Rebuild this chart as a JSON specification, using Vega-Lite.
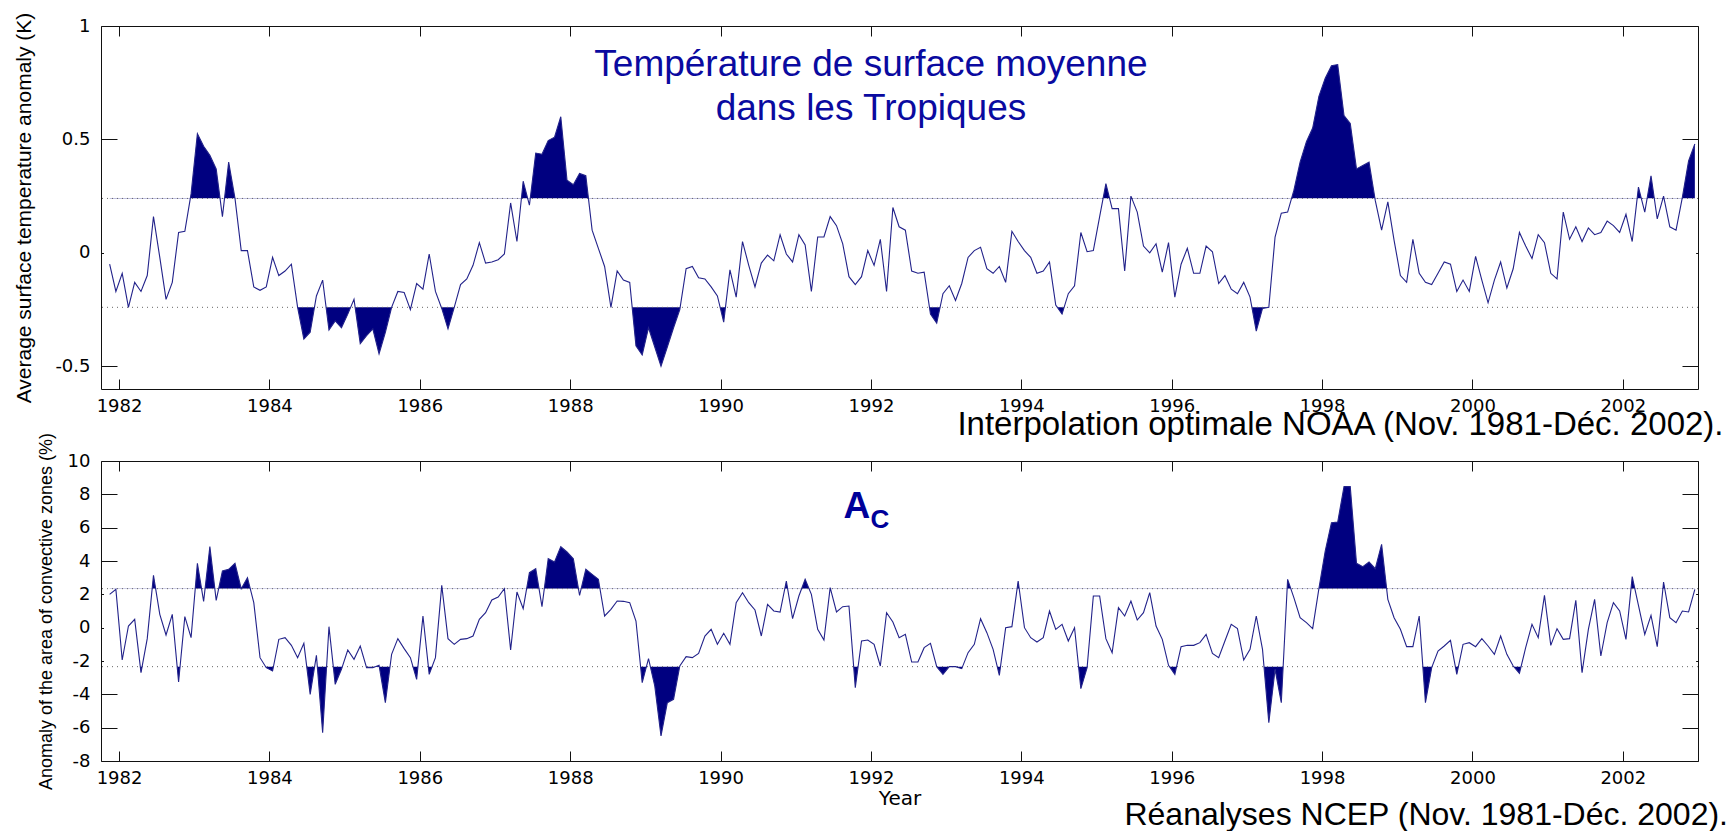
{
  "$schema": "https://vega.github.io/schema/vega-lite/v6.json",
  "background": "white",
  "padding": {"left": 13, "top": 11, "right": 0, "bottom": 0},
  "bounds": "flush",
  "spacing": 72,
  "title": {"text": "Réanalyses NCEP (Nov. 1981-Déc. 2002).", "orient": "bottom", "anchor": "end", "frame": "group", "dx": 30, "offset": -9, "font": "Liberation Sans", "fontSize": 32, "fontWeight": "normal", "color": "#000"},
  "config": {
    "view": {"stroke": "#111", "strokeWidth": 1},
    "axis": {"domain": false, "grid": false, "labelFont": "DejaVu Sans", "labelFontSize": 18, "labelColor": "#000", "tickColor": "#111", "tickWidth": 1, "zindex": 1, "titleFont": "Liberation Sans", "titleFontWeight": "normal", "titleColor": "#000", "labelFlush": false}
  },
  "datasets": {"d": [
{"t":1981.875,"s":-0.05,"a":2.0},{"t":1981.958,"s":-0.17,"a":2.3},
{"t":1982.042,"s":-0.09,"a":-1.94},{"t":1982.125,"s":-0.24,"a":0.1},{"t":1982.208,"s":-0.13,"a":0.5},{"t":1982.292,"s":-0.17,"a":-2.7},{"t":1982.375,"s":-0.1,"a":-0.66},{"t":1982.458,"s":0.16,"a":3.14},{"t":1982.542,"s":-0.02,"a":0.8},{"t":1982.625,"s":-0.205,"a":-0.44},{"t":1982.708,"s":-0.13,"a":0.8},{"t":1982.792,"s":0.09,"a":-3.26},{"t":1982.875,"s":0.095,"a":0.66},{"t":1982.958,"s":0.26,"a":-0.6},
{"t":1983.042,"s":0.525,"a":3.86},{"t":1983.125,"s":0.47,"a":1.58},{"t":1983.208,"s":0.43,"a":4.86},{"t":1983.292,"s":0.37,"a":1.64},{"t":1983.375,"s":0.16,"a":3.4},{"t":1983.458,"s":0.4,"a":3.5},{"t":1983.542,"s":0.24,"a":3.86},{"t":1983.625,"s":0.01,"a":2.34},{"t":1983.708,"s":0.01,"a":3.0},{"t":1983.792,"s":-0.15,"a":1.5},{"t":1983.875,"s":-0.165,"a":-1.8},{"t":1983.958,"s":-0.15,"a":-2.4},
{"t":1984.042,"s":-0.02,"a":-2.6},{"t":1984.125,"s":-0.1,"a":-0.7},{"t":1984.208,"s":-0.08,"a":-0.6},{"t":1984.292,"s":-0.05,"a":-1.06},{"t":1984.375,"s":-0.24,"a":-1.8},{"t":1984.458,"s":-0.38,"a":-0.94},{"t":1984.542,"s":-0.35,"a":-4.0},{"t":1984.625,"s":-0.19,"a":-1.66},{"t":1984.708,"s":-0.12,"a":-6.3},{"t":1984.792,"s":-0.34,"a":0.06},{"t":1984.875,"s":-0.3,"a":-3.4},{"t":1984.958,"s":-0.33,"a":-2.5},
{"t":1985.042,"s":-0.27,"a":-1.34},{"t":1985.125,"s":-0.205,"a":-1.9},{"t":1985.208,"s":-0.4,"a":-1.1},{"t":1985.292,"s":-0.365,"a":-2.4},{"t":1985.375,"s":-0.335,"a":-2.4},{"t":1985.458,"s":-0.445,"a":-2.26},{"t":1985.542,"s":-0.35,"a":-4.5},{"t":1985.625,"s":-0.24,"a":-1.6},{"t":1985.708,"s":-0.17,"a":-0.66},{"t":1985.792,"s":-0.175,"a":-1.26},{"t":1985.875,"s":-0.25,"a":-1.8},{"t":1985.958,"s":-0.135,"a":-3.1},
{"t":1986.042,"s":-0.16,"a":0.7},{"t":1986.125,"s":-0.005,"a":-2.8},{"t":1986.208,"s":-0.17,"a":-1.8},{"t":1986.292,"s":-0.245,"a":2.54},{"t":1986.375,"s":-0.335,"a":-0.66},{"t":1986.458,"s":-0.24,"a":-1.0},{"t":1986.542,"s":-0.14,"a":-0.7},{"t":1986.625,"s":-0.115,"a":-0.66},{"t":1986.708,"s":-0.055,"a":-0.5},{"t":1986.792,"s":0.045,"a":0.5},{"t":1986.875,"s":-0.045,"a":0.9},{"t":1986.958,"s":-0.04,"a":1.66},
{"t":1987.042,"s":-0.03,"a":1.84},{"t":1987.125,"s":-0.005,"a":2.34},{"t":1987.208,"s":0.22,"a":-1.34},{"t":1987.292,"s":0.05,"a":2.14},{"t":1987.375,"s":0.316,"a":1.14},{"t":1987.458,"s":0.21,"a":3.3},{"t":1987.542,"s":0.44,"a":3.54},{"t":1987.625,"s":0.435,"a":1.26},{"t":1987.708,"s":0.495,"a":4.14},{"t":1987.792,"s":0.51,"a":3.94},{"t":1987.875,"s":0.6,"a":4.86},{"t":1987.958,"s":0.32,"a":4.54},
{"t":1988.042,"s":0.3,"a":4.14},{"t":1988.125,"s":0.35,"a":1.94},{"t":1988.208,"s":0.34,"a":3.5},{"t":1988.292,"s":0.1,"a":3.2},{"t":1988.375,"s":0.02,"a":2.9},{"t":1988.458,"s":-0.06,"a":0.7},{"t":1988.542,"s":-0.24,"a":1.1},{"t":1988.625,"s":-0.08,"a":1.6},{"t":1988.708,"s":-0.12,"a":1.58},{"t":1988.792,"s":-0.13,"a":1.5},{"t":1988.875,"s":-0.41,"a":0.4},{"t":1988.958,"s":-0.45,"a":-3.3},
{"t":1989.042,"s":-0.33,"a":-1.86},{"t":1989.125,"s":-0.415,"a":-3.5},{"t":1989.208,"s":-0.5,"a":-6.5},{"t":1989.292,"s":-0.415,"a":-4.5},{"t":1989.375,"s":-0.33,"a":-4.3},{"t":1989.458,"s":-0.25,"a":-2.3},{"t":1989.542,"s":-0.07,"a":-1.74},{"t":1989.625,"s":-0.06,"a":-1.8},{"t":1989.708,"s":-0.11,"a":-1.54},{"t":1989.792,"s":-0.115,"a":-0.5},{"t":1989.875,"s":-0.15,"a":-0.1},{"t":1989.958,"s":-0.19,"a":-1.0},
{"t":1990.042,"s":-0.305,"a":-0.34},{"t":1990.125,"s":-0.075,"a":-1.0},{"t":1990.208,"s":-0.195,"a":1.5},{"t":1990.292,"s":0.05,"a":2.1},{"t":1990.375,"s":-0.055,"a":1.5},{"t":1990.458,"s":-0.15,"a":1.06},{"t":1990.542,"s":-0.045,"a":-0.5},{"t":1990.625,"s":-0.01,"a":1.4},{"t":1990.708,"s":-0.035,"a":1.0},{"t":1990.792,"s":0.08,"a":0.94},{"t":1990.875,"s":-0.005,"a":2.8},{"t":1990.958,"s":-0.04,"a":0.54},
{"t":1991.042,"s":0.08,"a":1.9},{"t":1991.125,"s":0.035,"a":2.9},{"t":1991.208,"s":-0.17,"a":2.0},{"t":1991.292,"s":0.07,"a":-0.1},{"t":1991.375,"s":0.07,"a":-0.74},{"t":1991.458,"s":0.16,"a":2.4},{"t":1991.542,"s":0.12,"a":0.94},{"t":1991.625,"s":0.04,"a":1.26},{"t":1991.708,"s":-0.105,"a":1.3},{"t":1991.792,"s":-0.14,"a":-3.6},{"t":1991.875,"s":-0.105,"a":-0.8},{"t":1991.958,"s":0.01,"a":-0.74},
{"t":1992.042,"s":-0.055,"a":-1.0},{"t":1992.125,"s":0.06,"a":-2.3},{"t":1992.208,"s":-0.17,"a":0.9},{"t":1992.292,"s":0.2,"a":0.34},{"t":1992.375,"s":0.115,"a":-0.6},{"t":1992.458,"s":0.1,"a":-0.4},{"t":1992.542,"s":-0.08,"a":-2.06},{"t":1992.625,"s":-0.09,"a":-2.06},{"t":1992.708,"s":-0.085,"a":-1.2},{"t":1992.792,"s":-0.27,"a":-0.94},{"t":1992.875,"s":-0.31,"a":-2.34},{"t":1992.958,"s":-0.18,"a":-2.8},
{"t":1993.042,"s":-0.145,"a":-2.34},{"t":1993.125,"s":-0.21,"a":-2.34},{"t":1993.208,"s":-0.135,"a":-2.46},{"t":1993.292,"s":-0.02,"a":-1.5},{"t":1993.375,"s":0.01,"a":-1.0},{"t":1993.458,"s":0.025,"a":0.54},{"t":1993.542,"s":-0.07,"a":-0.3},{"t":1993.625,"s":-0.09,"a":-1.3},{"t":1993.708,"s":-0.06,"a":-2.86},{"t":1993.792,"s":-0.13,"a":0.0},{"t":1993.875,"s":0.095,"a":0.06},{"t":1993.958,"s":0.05,"a":2.8},
{"t":1994.042,"s":0.01,"a":0.0},{"t":1994.125,"s":-0.02,"a":-0.6},{"t":1994.208,"s":-0.09,"a":-0.86},{"t":1994.292,"s":-0.08,"a":-0.6},{"t":1994.375,"s":-0.04,"a":1.0},{"t":1994.458,"s":-0.23,"a":-0.1},{"t":1994.542,"s":-0.27,"a":0.2},{"t":1994.625,"s":-0.18,"a":-0.8},{"t":1994.708,"s":-0.145,"a":0.0},{"t":1994.792,"s":0.09,"a":-3.66},{"t":1994.875,"s":0.005,"a":-2.4},{"t":1994.958,"s":0.01,"a":1.9},
{"t":1995.042,"s":0.16,"a":1.9},{"t":1995.125,"s":0.305,"a":-0.66},{"t":1995.208,"s":0.195,"a":-1.5},{"t":1995.292,"s":0.195,"a":1.2},{"t":1995.375,"s":-0.08,"a":0.7},{"t":1995.458,"s":0.25,"a":1.6},{"t":1995.542,"s":0.18,"a":0.46},{"t":1995.625,"s":0.03,"a":0.9},{"t":1995.708,"s":0.0,"a":2.1},{"t":1995.792,"s":0.04,"a":0.1},{"t":1995.875,"s":-0.085,"a":-0.7},{"t":1995.958,"s":0.045,"a":-2.26},
{"t":1996.042,"s":-0.195,"a":-2.8},{"t":1996.125,"s":-0.05,"a":-1.14},{"t":1996.208,"s":0.02,"a":-1.06},{"t":1996.292,"s":-0.09,"a":-1.06},{"t":1996.375,"s":-0.09,"a":-0.9},{"t":1996.458,"s":0.03,"a":-0.4},{"t":1996.542,"s":0.005,"a":-1.54},{"t":1996.625,"s":-0.135,"a":-1.8},{"t":1996.708,"s":-0.1,"a":-0.8},{"t":1996.792,"s":-0.16,"a":0.2},{"t":1996.875,"s":-0.18,"a":-0.06},{"t":1996.958,"s":-0.13,"a":-1.94},
{"t":1997.042,"s":-0.195,"a":-1.3},{"t":1997.125,"s":-0.345,"a":0.7},{"t":1997.208,"s":-0.245,"a":-1.3},{"t":1997.292,"s":-0.24,"a":-5.7},{"t":1997.375,"s":0.07,"a":-2.5},{"t":1997.458,"s":0.175,"a":-4.5},{"t":1997.542,"s":0.18,"a":2.9},{"t":1997.625,"s":0.275,"a":1.8},{"t":1997.708,"s":0.4,"a":0.6},{"t":1997.792,"s":0.49,"a":0.3},{"t":1997.875,"s":0.55,"a":-0.06},{"t":1997.958,"s":0.69,"a":2.34},
{"t":1998.042,"s":0.77,"a":4.6},{"t":1998.125,"s":0.825,"a":6.3},{"t":1998.208,"s":0.83,"a":6.34},{"t":1998.292,"s":0.605,"a":8.46},{"t":1998.375,"s":0.57,"a":8.46},{"t":1998.458,"s":0.37,"a":3.86},{"t":1998.542,"s":0.385,"a":3.66},{"t":1998.625,"s":0.4,"a":3.94},{"t":1998.708,"s":0.23,"a":3.54},{"t":1998.792,"s":0.1,"a":5.0},{"t":1998.875,"s":0.225,"a":1.7},{"t":1998.958,"s":0.055,"a":0.6},
{"t":1999.042,"s":-0.1,"a":-0.1},{"t":1999.125,"s":-0.13,"a":-1.14},{"t":1999.208,"s":0.06,"a":-1.14},{"t":1999.292,"s":-0.09,"a":0.7},{"t":1999.375,"s":-0.13,"a":-4.5},{"t":1999.458,"s":-0.14,"a":-2.4},{"t":1999.542,"s":-0.09,"a":-1.4},{"t":1999.625,"s":-0.04,"a":-1.1},{"t":1999.708,"s":-0.05,"a":-0.76},{"t":1999.792,"s":-0.17,"a":-2.8},{"t":1999.875,"s":-0.12,"a":-1.0},{"t":1999.958,"s":-0.17,"a":-0.9},
{"t":2000.042,"s":-0.015,"a":-1.14},{"t":2000.125,"s":-0.12,"a":-0.66},{"t":2000.208,"s":-0.22,"a":-1.1},{"t":2000.292,"s":-0.12,"a":-1.6},{"t":2000.375,"s":-0.04,"a":-0.5},{"t":2000.458,"s":-0.155,"a":-1.6},{"t":2000.542,"s":-0.07,"a":-2.3},{"t":2000.625,"s":0.09,"a":-2.74},{"t":2000.708,"s":0.03,"a":-1.2},{"t":2000.792,"s":-0.025,"a":0.2},{"t":2000.875,"s":0.08,"a":-0.6},{"t":2000.958,"s":0.045,"a":1.94},
{"t":2001.042,"s":-0.09,"a":-1.06},{"t":2001.125,"s":-0.115,"a":-0.06},{"t":2001.208,"s":0.18,"a":-0.7},{"t":2001.292,"s":0.06,"a":-0.66},{"t":2001.375,"s":0.115,"a":1.64},{"t":2001.458,"s":0.05,"a":-2.7},{"t":2001.542,"s":0.11,"a":-0.1},{"t":2001.625,"s":0.08,"a":1.7},{"t":2001.708,"s":0.09,"a":-1.7},{"t":2001.792,"s":0.14,"a":0.3},{"t":2001.875,"s":0.12,"a":1.5},{"t":2001.958,"s":0.09,"a":1.0},
{"t":2002.042,"s":0.17,"a":-0.7},{"t":2002.125,"s":0.05,"a":3.06},{"t":2002.208,"s":0.29,"a":1.34},{"t":2002.292,"s":0.18,"a":-0.4},{"t":2002.375,"s":0.34,"a":0.74},{"t":2002.458,"s":0.15,"a":-1.14},{"t":2002.542,"s":0.25,"a":2.74},{"t":2002.625,"s":0.115,"a":0.6},{"t":2002.708,"s":0.1,"a":0.3},{"t":2002.792,"s":0.245,"a":1.0},{"t":2002.875,"s":0.405,"a":0.94},{"t":2002.958,"s":0.48,"a":2.3}
  ]},
  "vconcat": [
    {
      "width": 1597, "height": 363,
      "resolve": {"axis": {"x": "independent", "y": "independent"}},
      "layer": [
        {
          "data": {"name": "d"},
          "mark": {"type": "area", "color": "#000080", "opacity": 1},
          "encoding": {
            "x": {"field": "t", "type": "quantitative", "scale": {"domain": [1981.76, 2003.0], "nice": false, "zero": false},
                  "axis": {"orient": "bottom", "values": [1982,1984,1986,1988,1990,1992,1994,1996,1998,2000,2002], "format": "d", "tickSize": -10, "labelPadding": 18,
                           "title": "Interpolation optimale NOAA (Nov. 1981-Déc. 2002).", "titleFont": "Liberation Sans", "titleFontSize": 33, "titleAlign": "right", "titleX": 1622, "titlePadding": -7}},
            "y": {"field": "s", "type": "quantitative", "scale": {"domain": [-0.6, 1], "nice": false, "zero": false},
                  "axis": {"orient": "left", "values": [-0.5, 0, 0.5, 1], "labelExpr": "'' + datum.value", "title": "Average surface temperature anomaly (K)", "titleFontSize": 21, "titlePadding": 20, "tickSize": -16, "labelPadding": 27}},
            "y2": {"datum": 0.24}
          }
        },
        {
          "data": {"values": [{}]},
          "mark": {"type": "rect", "color": "white"},
          "encoding": {
            "x": {"datum": 1981.8, "type": "quantitative", "axis": null}, "x2": {"datum": 2002.975},
            "y": {"datum": -0.24, "type": "quantitative", "axis": null}, "y2": {"datum": 0.24}
          }
        },
        {
          "data": {"values": [{}]},
          "mark": {"type": "rule", "color": "#666", "strokeDash": [1, 4], "strokeWidth": 1},
          "encoding": {"y": {"datum": 0.24, "type": "quantitative", "axis": null}}
        },
        {
          "data": {"values": [{}]},
          "mark": {"type": "rule", "color": "#666", "strokeDash": [1, 4], "strokeWidth": 1},
          "encoding": {"y": {"datum": -0.24, "type": "quantitative", "axis": null}}
        },
        {
          "data": {"name": "d"},
          "mark": {"type": "line", "color": "#22228a", "strokeWidth": 1.1},
          "encoding": {
            "x": {"field": "t", "type": "quantitative", "axis": {"orient": "top", "values": [1982,1984,1986,1988,1990,1992,1994,1996,1998,2000,2002], "labels": false, "title": null, "tickSize": -10}},
            "y": {"field": "s", "type": "quantitative", "axis": {"orient": "right", "values": [-0.5, 0, 0.5, 1], "labels": false, "title": null, "tickSize": -16}}
          }
        },
        {
          "data": {"values": [{}]},
          "mark": {"type": "text", "text": "Température de surface moyenne", "font": "Liberation Sans", "fontSize": 37, "color": "#0a0aa0", "align": "center", "baseline": "alphabetic"},
          "encoding": {"x": {"datum": 1992.0, "type": "quantitative", "axis": null}, "y": {"datum": 0.778, "type": "quantitative", "axis": null}}
        },
        {
          "data": {"values": [{}]},
          "mark": {"type": "text", "text": "dans les Tropiques", "font": "Liberation Sans", "fontSize": 37, "color": "#0a0aa0", "align": "center", "baseline": "alphabetic"},
          "encoding": {"x": {"datum": 1992.0, "type": "quantitative", "axis": null}, "y": {"datum": 0.584, "type": "quantitative", "axis": null}}
        }
      ]
    },
    {
      "width": 1597, "height": 300,
      "resolve": {"axis": {"x": "independent", "y": "independent"}},
      "layer": [
        {
          "data": {"name": "d"},
          "mark": {"type": "area", "color": "#000080", "opacity": 1},
          "encoding": {
            "x": {"field": "t", "type": "quantitative", "scale": {"domain": [1981.76, 2003.0], "nice": false, "zero": false},
                  "axis": {"orient": "bottom", "values": [1982,1984,1986,1988,1990,1992,1994,1996,1998,2000,2002], "format": "d", "title": "Year", "titleFont": "DejaVu Sans", "titleFontSize": 20, "titlePadding": 1, "tickSize": -10, "labelPadding": 18}},
            "y": {"field": "a", "type": "quantitative", "scale": {"domain": [-8, 10], "nice": false, "zero": false},
                  "axis": {"orient": "left", "values": [-8,-6,-4,-2,0,2,4,6,8,10], "labelExpr": "'' + datum.value", "title": "Anomaly of the area of convective zones (%)", "titleFontSize": 18, "titlePadding": 12, "tickSize": -16, "labelPadding": 27}},
            "y2": {"datum": 2.34}
          }
        },
        {
          "data": {"values": [{}]},
          "mark": {"type": "rect", "color": "white"},
          "encoding": {
            "x": {"datum": 1981.8, "type": "quantitative", "axis": null}, "x2": {"datum": 2002.975},
            "y": {"datum": -2.34, "type": "quantitative", "axis": null}, "y2": {"datum": 2.34}
          }
        },
        {
          "data": {"values": [{}]},
          "mark": {"type": "rule", "color": "#666", "strokeDash": [1, 4], "strokeWidth": 1},
          "encoding": {"y": {"datum": 2.34, "type": "quantitative", "axis": null}}
        },
        {
          "data": {"values": [{}]},
          "mark": {"type": "rule", "color": "#666", "strokeDash": [1, 4], "strokeWidth": 1},
          "encoding": {"y": {"datum": -2.34, "type": "quantitative", "axis": null}}
        },
        {
          "data": {"name": "d"},
          "mark": {"type": "line", "color": "#22228a", "strokeWidth": 1.1},
          "encoding": {
            "x": {"field": "t", "type": "quantitative", "axis": {"orient": "top", "values": [1982,1984,1986,1988,1990,1992,1994,1996,1998,2000,2002], "labels": false, "title": null, "tickSize": -10}},
            "y": {"field": "a", "type": "quantitative", "axis": {"orient": "right", "values": [-8,-6,-4,-2,0,2,4,6,8,10], "labels": false, "title": null, "tickSize": -16}}
          }
        },
        {
          "data": {"values": [{}]},
          "mark": {"type": "text", "text": "A", "font": "Liberation Sans", "fontSize": 37, "fontWeight": "bold", "color": "#00009a", "align": "left", "baseline": "alphabetic"},
          "encoding": {"x": {"datum": 1991.634, "type": "quantitative", "axis": null}, "y": {"datum": 6.58, "type": "quantitative", "axis": null}}
        },
        {
          "data": {"values": [{}]},
          "mark": {"type": "text", "text": "C", "font": "Liberation Sans", "fontSize": 26, "fontWeight": "bold", "color": "#00009a", "align": "left", "baseline": "alphabetic"},
          "encoding": {"x": {"datum": 1991.993, "type": "quantitative", "axis": null}, "y": {"datum": 5.98, "type": "quantitative", "axis": null}}
        }
      ]
    }
  ]
}
